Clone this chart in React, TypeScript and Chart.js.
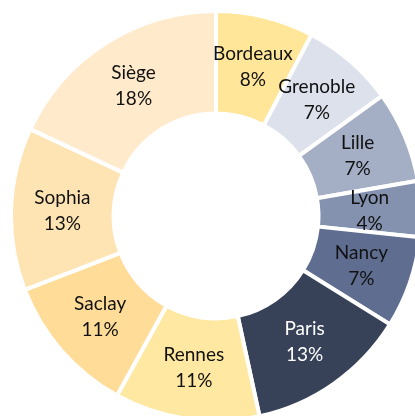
import React, { useEffect, useRef } from "react";
import { Chart, registerables } from "chart.js";

Chart.register(...registerables);

const categories = ["Bordeaux", "Grenoble", "Lille", "Lyon", "Nancy", "Paris", "Rennes", "Saclay", "Sophia", "Siège"];
const values = [7.7, 7.3, 7.2, 4.4, 7.2, 12.7, 11.4, 11.1, 12.8, 18.0];
const colors = ["#FFE699", "#DDE1EB", "#A4AEC5", "#8492B0", "#5F6E90", "#374259", "#FFE8A1", "#FFDC98", "#FFE4B3", "#FFEACB"];
const labelColors = ["#111", "#111", "#111", "#111", "#111", "#FFFFFF", "#111", "#111", "#111", "#111"];

const FONT = "Lato, 'Open Sans', sans-serif";

const labelPlugin = {
  id: "arcLabels",
  afterDatasetsDraw(chart: any) {
    const { ctx } = chart;
    const meta = chart.getDatasetMeta(0);
    const data = chart.data.datasets[0].data as number[];
    const total = data.reduce((a, b) => a + b, 0);
    ctx.save();
    ctx.font = `19px ${FONT}`;
    ctx.textAlign = "center";
    ctx.textBaseline = "middle";
    meta.data.forEach((arc: any, i: number) => {
      const p = arc.getProps(["startAngle", "endAngle", "innerRadius", "outerRadius", "x", "y"], true);
      const mid = (p.startAngle + p.endAngle) / 2;
      const r = (p.innerRadius + p.outerRadius) / 2;
      const cx = p.x + Math.cos(mid) * r;
      const cy = p.y + Math.sin(mid) * r;
      ctx.fillStyle = labelColors[i];
      ctx.fillText(String(chart.data.labels[i]), cx, cy - 13);
      ctx.fillText(`${Math.round((data[i] / total) * 100)}%`, cx, cy + 13);
    });
    ctx.restore();
  },
};

export default function App() {
  const ref = useRef<HTMLCanvasElement>(null);
  useEffect(() => {
    if (!ref.current) return;
    const chart = new Chart(ref.current, {
      type: "doughnut",
      data: {
        labels: categories,
        datasets: [
          {
            data: values,
            backgroundColor: colors,
            borderColor: "#FFFFFF",
            borderWidth: 4,
          },
        ],
      },
      options: {
        responsive: false,
        animation: false,
        cutout: "50%",
        layout: { padding: 0 },
        plugins: {
          legend: { display: false },
          tooltip: { enabled: false },
        },
      },
      plugins: [labelPlugin],
    });
    return () => chart.destroy();
  }, []);
  return (
    <div style={{ position: "fixed", left: 0, top: 0, width: 415, height: 416, overflow: "hidden", background: "#fff" }}>
      <canvas ref={ref} width={414} height={414} style={{ position: "absolute", left: 9, top: 9 }} />
    </div>
  );
}
